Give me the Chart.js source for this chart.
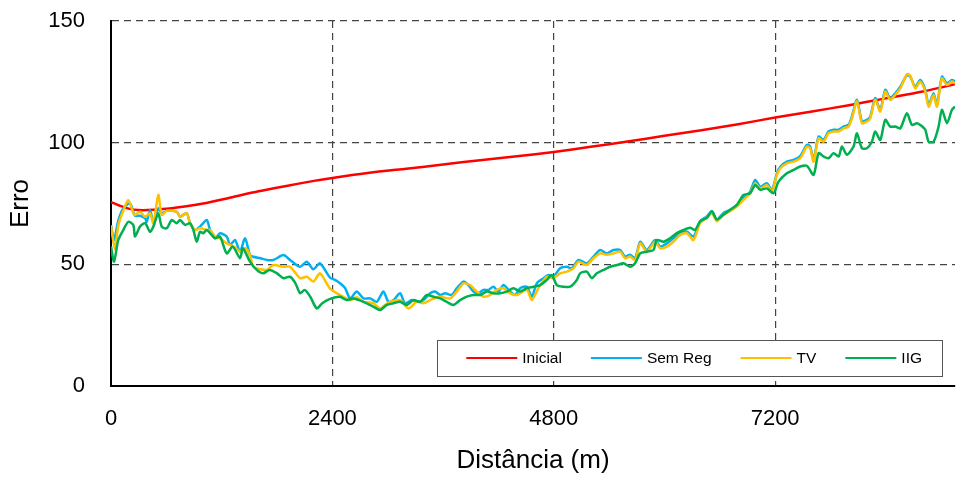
<!DOCTYPE html>
<html>
<head>
<meta charset="utf-8">
<script src="https://cdn.jsdelivr.net/npm/chart.js@4"></script>
<style>
  html, body { margin: 0; padding: 0; background: #fff; }
  #wrap { width: 956px; height: 477px; position: relative; }
</style>
</head>
<body>
<div id="wrap"><canvas id="graph"></canvas></div>
<script>
const xTicks = [0, 2400, 4800, 7200];
const yTicks = [0, 50, 100, 150];
const xMax = 9150;

// [distância (m), erro]
const inicial = [
  [0,75.6],[100,74],[200,72.8],[300,72.3],[400,72.3],[600,72.8],[800,73.8],[1000,75],
  [1300,77.5],[1600,80],[1900,82.2],[2200,84.3],[2400,85.5],[2800,87.6],[3200,89.3],
  [3600,91],[4000,92.8],[4400,94.4],[4800,96.2],[5200,98.3],[5600,100.5],[6000,102.8],
  [6400,105.1],[6800,107.6],[7200,110.3],[7600,112.8],[8000,115.4],[8400,118.2],
  [8800,121],[9150,124]
];

const semReg = [
  [0,66],[33,60],[79,68],[133,73],[206,75],[260,70],[315,70],[369,69],[387,67.5],[423,72.3],
  [459,67.5],[513,73],[550,71],[604,72],[713,71.6],[748,69.6],[821,71],[857,66.9],[911,64.1],
  [965,65.5],[1038,68.2],[1074,64.1],[1128,60.7],[1182,62.8],[1255,61.4],[1291,58],[1345,60],
  [1399,55.2],[1453,60.7],[1507,53.8],[1543,53.1],[1620,52.5],[1689,51.8],[1760,51.8],
  [1869,53.8],[1941,51.8],[2050,49],[2122,51.1],[2194,48],[2266,50.4],[2375,44.5],[2429,43.6],
  [2483,42.2],[2538,40.2],[2592,36],[2664,38.8],[2737,36],[2809,36],[2881,34.6],[2953,38.8],
  [3008,34.6],[3062,35.3],[3134,38.1],[3188,34],[3261,35.3],[3315,34.6],[3387,35.3],[3460,38.1],
  [3514,38.8],[3568,37.4],[3622,38.1],[3694,37.4],[3749,40.2],[3821,42.9],[3875,41.5],
  [3929,38.8],[3984,38.1],[4038,39.5],[4092,39.5],[4146,40.8],[4201,38.8],[4255,41.5],
  [4327,38.8],[4381,37.4],[4436,40.2],[4508,40.8],[4562,36.7],[4616,42.2],[4689,44.3],
  [4743,45.6],[4797,44.9],[4869,48.4],[4942,49],[4996,48.4],[5068,51.8],[5158,50.4],
  [5231,53.2],[5303,55.9],[5375,54.5],[5448,55.9],[5520,55.9],[5574,53.2],[5628,53.9],
  [5682,52.5],[5737,59.3],[5809,55.9],[5899,60],[5954,57.3],[6026,58.6],[6098,60.7],
  [6171,62.8],[6243,63.4],[6315,61.4],[6387,67.7],[6460,69.7],[6514,71.8],[6568,68.4],
  [6640,71.1],[6713,72.4],[6785,74.4],[6857,77.2],[6929,79.9],[6984,84.7],[7038,81.9],
  [7110,83.3],[7164,80.6],[7219,87.4],[7255,90.1],[7327,92.2],[7400,92.9],[7472,94.5],
  [7544,99.1],[7580,98.4],[7617,93],[7671,102.5],[7725,101.1],[7779,104.6],[7834,105.3],
  [7888,105.3],[7942,106.6],[7996,107.3],[8032,110.7],[8087,117.6],[8141,108.7],[8195,109.4],
  [8231,110.7],[8285,118.3],[8340,113.5],[8394,121.7],[8448,118.3],[8502,120.3],[8557,123],
  [8629,127.8],[8665,127.1],[8719,123],[8773,125.8],[8828,121.7],[8864,115.5],[8918,120.3],
  [8954,115.5],[9008,127.1],[9063,124.4],[9117,125.8],[9150,125.1]
];

const tv = [
  [0,66],[43,56],[79,66],[133,72],[188,76.4],[242,71],[260,70.3],[315,71.6],[369,69.6],[423,71],
  [459,66.9],[513,78.5],[550,70.3],[604,72],[713,71.6],[748,69.6],[821,71],[857,66.9],[911,64.1],
  [965,64.8],[1038,64.1],[1074,64.1],[1128,61.4],[1182,60.7],[1255,58.6],[1291,58],[1345,57],
  [1399,55.2],[1453,56.6],[1507,53.8],[1543,49],[1620,48],[1689,47.7],[1760,49.7],[1869,49],
  [1941,49],[2050,44.3],[2122,44.9],[2194,42.9],[2266,46.3],[2375,40],[2483,37.4],[2592,35.3],
  [2664,36.5],[2737,34.6],[2845,34],[2917,31.9],[2971,33.3],[3026,34.6],[3134,35.3],[3224,31.9],
  [3315,34.6],[3387,34],[3460,35.3],[3568,36.7],[3676,36],[3749,38.8],[3821,42.2],[3893,41.5],
  [3966,38.8],[4038,36.7],[4110,37.4],[4183,39.5],[4255,40.2],[4327,38.1],[4399,37.4],
  [4508,39.5],[4562,35.3],[4634,40.2],[4725,44.9],[4797,44.3],[4869,46.3],[4942,47],[5014,48.4],
  [5068,51.1],[5158,49.7],[5231,52.5],[5303,54.5],[5375,53.9],[5448,54.5],[5520,55.2],
  [5574,52.5],[5628,53.2],[5682,51.8],[5737,58.6],[5809,55.2],[5899,59.3],[5954,56.6],
  [6026,57.3],[6098,59.3],[6171,62.1],[6243,62.8],[6315,60],[6387,66.9],[6460,69.1],[6514,71.1],
  [6568,67.7],[6640,70.4],[6713,71.8],[6785,73.7],[6857,76.5],[6929,79.2],[6984,83.3],
  [7038,81.2],[7110,82.6],[7164,80],[7219,86.7],[7255,89.4],[7327,91.5],[7400,92.2],[7472,93.6],
  [7544,98.4],[7580,97.7],[7617,92.2],[7671,101.8],[7725,100.4],[7779,103.9],[7834,104.6],
  [7888,104.6],[7942,105.9],[7996,106.6],[8032,110],[8087,117],[8141,108],[8195,108.7],
  [8231,110],[8285,117.6],[8340,112.8],[8394,121],[8448,117.6],[8502,119.6],[8557,122.3],
  [8629,128.2],[8665,127.5],[8719,122.3],[8773,125.1],[8828,121],[8864,114.8],[8918,119.6],
  [8954,114.8],[9008,126.4],[9063,123.7],[9117,125.1],[9150,124.4]
];

const iig = [
  [0,57.3],[33,51.1],[79,60],[133,64.1],[188,67.5],[242,66.2],[260,61.4],[315,65.5],[369,66.9],
  [423,63.4],[459,65.5],[513,71],[550,65.5],[604,64.8],[658,68.2],[713,66.9],[748,68.2],
  [803,66.2],[857,66.9],[893,64.1],[929,59.3],[965,63.4],[1000,62.8],[1038,64.1],[1090,62.1],
  [1128,60.7],[1182,61.4],[1255,54.5],[1320,57.3],[1399,52.5],[1430,56.6],[1507,51.1],
  [1580,47.7],[1650,46.3],[1720,47.7],[1800,46.3],[1869,44.3],[1941,44.9],[2000,42.2],
  [2050,38.1],[2100,39.5],[2160,36.7],[2230,31.9],[2290,34],[2375,35.8],[2483,36.7],[2556,35.3],
  [2628,36],[2737,34.6],[2845,32.6],[2917,31.2],[2990,33.3],[3062,34],[3134,34.6],[3206,33.3],
  [3279,35.3],[3351,34.6],[3423,37.4],[3496,36.7],[3568,36],[3640,34.6],[3713,33.3],[3785,35.3],
  [3857,36.7],[3929,37.4],[4002,37.4],[4074,38.8],[4146,38.1],[4219,38.1],[4291,38.8],
  [4363,40.2],[4436,38.8],[4508,40.2],[4580,40.8],[4652,41.5],[4725,43.6],[4779,45.6],
  [4833,41.5],[4906,40.8],[4978,40.8],[5050,43.6],[5086,46.3],[5158,47],[5213,44.3],[5267,46.3],
  [5339,47.7],[5411,49],[5484,49.7],[5556,50.4],[5628,49],[5682,50.4],[5737,54.5],[5809,55.2],
  [5881,55.9],[5917,60],[5990,59.3],[6062,60.7],[6134,62.8],[6207,64.1],[6279,65],[6333,64.1],
  [6387,67.7],[6460,69.1],[6514,71.8],[6568,68.4],[6640,70.4],[6713,72.4],[6785,74.4],
  [6857,78.5],[6929,79.2],[6984,82.6],[7038,80.6],[7110,81.2],[7183,79.2],[7237,84],[7327,87.4],
  [7400,88.8],[7472,90.2],[7544,90.5],[7617,86.8],[7671,95.7],[7725,94.3],[7779,93.6],
  [7834,95.7],[7888,94.3],[7924,98.4],[7978,95],[8050,98.4],[8087,103.9],[8141,97.7],
  [8195,97.7],[8249,100.4],[8285,104.6],[8340,101.1],[8394,109.4],[8448,106.6],[8502,106.6],
  [8557,105.9],[8629,112.1],[8683,107.3],[8737,108],[8773,107.3],[8828,105.3],[8864,100.4],
  [8918,100.4],[8972,106.6],[9008,113.5],[9063,108],[9117,113.5],[9150,114.8]
];

const series = [
  { label: 'Inicial', pts: inicial, color: '#ff0000', order: 4 },
  { label: 'Sem Reg', pts: semReg,  color: '#00b0f0', order: 3 },
  { label: 'TV',      pts: tv,      color: '#ffc000', order: 2 },
  { label: 'IIG',     pts: iig,     color: '#00b050', order: 1 }
];

const FONT = '"Liberation Sans", Arial, sans-serif';

// legenda com moldura, desenhada dentro da área do gráfico (canto inferior direito)
const legendaInterna = {
  id: 'legendaInterna',
  afterDatasetsDraw(chart) {
    const { ctx, chartArea } = chart;
    const lineLen = 51, gap = 5, spacing = 29, padL = 29, padR = 20, h = 36;
    ctx.save();
    ctx.font = '15.5px ' + FONT;
    const items = chart.data.datasets.map(ds => ({
      label: ds.label, color: ds.borderColor, w: ctx.measureText(ds.label).width
    }));
    const width = padL + padR + spacing * (items.length - 1) +
      items.reduce((s, it) => s + lineLen + gap + it.w, 0);
    const right = chartArea.right - 13, bottom = chartArea.bottom - 10;
    const left = right - width, top = bottom - h;
    ctx.fillStyle = '#fff';
    ctx.fillRect(left, top, width, h);
    ctx.strokeStyle = '#555';
    ctx.lineWidth = 1;
    ctx.strokeRect(Math.round(left) + 0.5, Math.round(top) + 0.5, Math.round(width), h);
    let x = left + padL;
    const y = top + h / 2;
    ctx.textBaseline = 'middle';
    ctx.textAlign = 'left';
    items.forEach(it => {
      ctx.strokeStyle = it.color;
      ctx.lineWidth = 2;
      ctx.beginPath();
      ctx.moveTo(x, y);
      ctx.lineTo(x + lineLen, y);
      ctx.stroke();
      ctx.fillStyle = '#000';
      ctx.fillText(it.label, x + lineLen + gap, y + 1);
      x += lineLen + gap + it.w + spacing;
    });
    ctx.restore();
  }
};

const gridColor = c => (c.tick && c.tick.value === 0) ? 'rgba(0,0,0,0)' : '#444';

new Chart(document.getElementById('graph'), {
  type: 'line',
  data: {
    datasets: series.map(s => ({
      label: s.label,
      data: s.pts.map(p => ({ x: p[0], y: p[1] })),
      borderColor: s.color,
      backgroundColor: s.color,
      borderWidth: 2.5,
      pointRadius: 0,
      tension: 0.25,
      fill: false,
      order: s.order
    }))
  },
  options: {
    responsive: true,
    maintainAspectRatio: false,
    animation: false,
    layout: { padding: { top: 21, right: 1, left: 0, bottom: 0 } },
    plugins: {
      legend: { display: false },
      tooltip: { enabled: false }
    },
    scales: {
      x: {
        type: 'linear',
        min: 0,
        max: xMax,
        afterBuildTicks: s => { s.ticks = xTicks.map(v => ({ value: v })); },
        afterFit: s => { s.height = 91; },
        grid: { color: gridColor, lineWidth: 1.2, drawTicks: false },
        border: { color: '#000', width: 2, dash: [7, 5] },
        ticks: {
          color: '#000', padding: 20, maxRotation: 0,
          font: { family: FONT, size: 22 },
          callback: v => String(v)
        },
        title: {
          display: true, text: 'Distância (m)', color: '#000',
          font: { family: FONT, size: 26 }, padding: { bottom: 1 }
        }
      },
      y: {
        min: 0,
        max: 150,
        afterBuildTicks: s => { s.ticks = yTicks.map(v => ({ value: v })); },
        // largura fixa e sem folga extra acima/abaixo do eixo
        afterFit: s => { s.width = 111; s.paddingTop = 0; s.paddingBottom = 0; },
        grid: { color: gridColor, lineWidth: 1.2, drawTicks: false },
        border: { color: '#000', width: 2, dash: [7, 5] },
        ticks: {
          color: '#000', padding: 26,
          font: { family: FONT, size: 22 },
          callback: v => String(v)
        },
        title: {
          display: true, text: 'Erro', color: '#000',
          font: { family: FONT, size: 26 }, padding: { top: 5 }
        }
      }
    }
  },
  plugins: [legendaInterna]
});
</script>
</body>
</html>
